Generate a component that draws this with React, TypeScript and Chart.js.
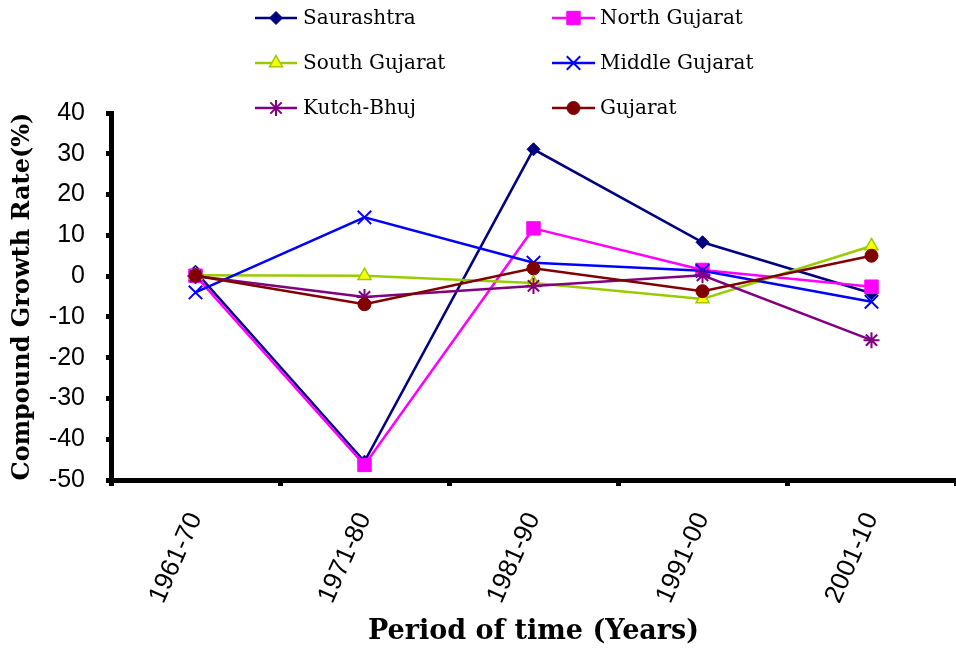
import React, { useEffect, useRef } from 'react';
import { Chart, registerables } from 'chart.js';
import { drawPoint } from 'chart.js/helpers';

Chart.register(...registerables);

// Decades on the x axis
const periods = ['1961-70', '1971-80', '1981-90', '1991-00', '2001-10'];

// Compound growth rate (%) per region
const saurashtra = [1.1, -45.5, 31.1, 8.3, -4.2];
const northGujarat = [0.1, -46.3, 11.7, 1.5, -2.6];
const southGujarat = [0.2, 0.1, -1.7, -5.6, 7.4];
const middleGujarat = [-4.0, 14.4, 3.3, 1.3, -6.3];
const kutchBhuj = [0.0, -5.1, -2.4, 0.2, -15.7];
const gujarat = [0.1, -6.9, 1.9, -3.7, 5.0];

const seriesNames = ['Saurashtra', 'North Gujarat', 'South Gujarat', 'Middle Gujarat', 'Kutch-Bhuj', 'Gujarat'];
const seriesValues = [saurashtra, northGujarat, southGujarat, middleGujarat, kutchBhuj, gujarat];

// Y axis range and step
const yMin = -50;
const yMax = 40;
const yStep = 10;

const seriesStyles = [
  { line: '#000080', fill: '#000080', edge: '#000080', shape: 'rectRot', size: 6.5, edgeWidth: 1 },
  { line: '#FF00FF', fill: '#FF00FF', edge: '#FF00FF', shape: 'rect', size: 9.5, edgeWidth: 1 },
  { line: '#99CC00', fill: '#FFFF00', edge: '#99CC00', shape: 'triangle', size: 7.5, edgeWidth: 1.5 },
  { line: '#0000FF', fill: '#0000FF', edge: '#0000FF', shape: 'crossRot', size: 9.5, edgeWidth: 2 },
  { line: '#800080', fill: '#800080', edge: '#800080', shape: 'star', size: 8, edgeWidth: 2 },
  { line: '#800000', fill: '#800000', edge: '#800000', shape: 'circle', size: 6.5, edgeWidth: 1 },
];

// Legend laid out as two columns of three rows above the plot
const legendColumns = [
  { x0: 255, x1: 297, textX: 303 },
  { x0: 552, x1: 595, textX: 600 },
];
const legendRows = [18, 63, 108];

const twoColumnLegend = {
  id: 'twoColumnLegend',
  afterDraw(chart: any) {
    const ctx = chart.ctx;
    chart.data.datasets.forEach((ds: any, i: number) => {
      const col = legendColumns[i % 2];
      const y = legendRows[Math.floor(i / 2)];
      ctx.save();
      ctx.strokeStyle = ds.borderColor;
      ctx.lineWidth = ds.borderWidth;
      ctx.beginPath();
      ctx.moveTo(col.x0, y);
      ctx.lineTo(col.x1, y);
      ctx.stroke();
      ctx.fillStyle = ds.pointBackgroundColor;
      ctx.strokeStyle = ds.pointBorderColor;
      ctx.lineWidth = ds.pointBorderWidth;
      drawPoint(
        ctx,
        { pointStyle: ds.pointStyle, radius: ds.pointRadius, rotation: 0, borderWidth: ds.pointBorderWidth },
        (col.x0 + col.x1) / 2,
        y
      );
      ctx.fillStyle = '#000';
      ctx.font = '20px "DejaVu Serif"';
      ctx.textAlign = 'left';
      ctx.textBaseline = 'middle';
      ctx.fillText(ds.label, col.textX, y + 1);
      ctx.restore();
    });
  },
};

const whiteBackground = {
  id: 'whiteBackground',
  beforeDraw(chart: any) {
    const ctx = chart.ctx;
    ctx.save();
    ctx.fillStyle = '#fff';
    ctx.fillRect(0, 0, chart.width, chart.height);
    ctx.restore();
  },
};

export default function App() {
  const canvasRef = useRef<HTMLCanvasElement | null>(null);

  useEffect(() => {
    if (!canvasRef.current) return;
    const datasets = seriesNames.map((name, i) => {
      const s = seriesStyles[i];
      return {
        label: name,
        data: seriesValues[i],
        borderColor: s.line,
        backgroundColor: s.fill,
        borderWidth: 2.5,
        pointStyle: s.shape,
        pointRadius: s.size,
        pointHoverRadius: s.size,
        pointBackgroundColor: s.fill,
        pointBorderColor: s.edge,
        pointBorderWidth: s.edgeWidth,
        tension: 0,
        fill: false,
        order: seriesNames.length - i,
      };
    });

    const chart = new Chart(canvasRef.current, {
      type: 'line',
      data: { labels: periods, datasets },
      plugins: [whiteBackground, twoColumnLegend],
      options: {
        responsive: false,
        animation: false,
        layout: { autoPadding: false, padding: { top: 113, left: 0, right: -5, bottom: 0 } },
        plugins: {
          legend: { display: false },
          tooltip: { enabled: false },
        },
        scales: {
          x: {
            type: 'category',
            offset: true,
            grid: {
              offset: true,
              drawOnChartArea: false,
              drawTicks: true,
              tickLength: 6,
              lineWidth: 5,
              color: '#000',
            },
            border: { display: true, width: 5, color: '#000' },
            ticks: {
              autoSkip: false,
              minRotation: 66,
              maxRotation: 66,
              padding: 22,
              color: '#000',
              font: { family: '"Liberation Sans", Arial, sans-serif', size: 26 },
            },
            title: {
              display: true,
              text: 'Period of time (Years)',
              color: '#000',
              font: { family: '"DejaVu Serif", serif', size: 27, weight: 'bold' },
              padding: { top: 0, bottom: 10 },
            },
            afterFit(scale: any) {
              scale.height = 178;
              scale.paddingLeft = 0;
              scale.paddingRight = 0;
            },
          },
          y: {
            min: yMin,
            max: yMax,
            grid: {
              drawOnChartArea: false,
              drawTicks: true,
              tickLength: 5,
              lineWidth: 5,
              color: '#000',
            },
            border: { display: true, width: 5, color: '#000' },
            ticks: {
              stepSize: yStep,
              padding: 21,
              color: '#000',
              font: { family: '"Liberation Sans", Arial, sans-serif', size: 25 },
            },
            title: {
              display: true,
              text: 'Compound Growth Rate(%)',
              color: '#000',
              font: { family: '"DejaVu Serif", serif', size: 24, weight: 'bold' },
              padding: { top: 8, bottom: 0 },
            },
            afterFit(scale: any) {
              scale.width = 111;
            },
          },
        },
      },
    });
    return () => chart.destroy();
  }, []);

  return (
    <div style={{ position: 'fixed', left: 0, top: 0, width: 956, height: 658, background: '#fff' }}>
      <canvas ref={canvasRef} width={956} height={658} />
    </div>
  );
}
